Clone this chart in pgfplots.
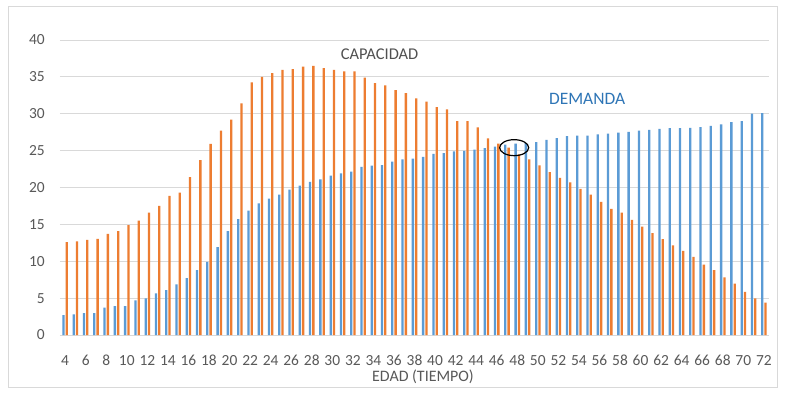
\documentclass[border=0pt]{standalone}
\usepackage{fontspec}
\setmainfont{Carlito}
\usepackage{pgfplots}
\usepackage{pgfplotstable}
\pgfplotsset{compat=1.18}
\definecolor{blu}{HTML}{5B9BD5}
\definecolor{ora}{HTML}{ED7D31}
\definecolor{gridc}{HTML}{D9D9D9}
\definecolor{tickc}{HTML}{595959}
\definecolor{capc}{HTML}{505050}
\definecolor{demc}{HTML}{2E75B6}
\definecolor{framec}{HTML}{D9D9D9}

\pgfplotstableread{
x y
4 2.7
5 2.8
6 2.95
7 2.95
8 3.7
9 3.9
10 3.9
11 4.7
12 4.95
13 5.65
14 6.1
15 6.85
16 7.7
17 8.8
18 9.9
19 11.9
20 14.1
21 15.7
22 16.85
23 17.85
24 18.5
25 19.05
26 19.7
27 20.25
28 20.75
29 21.1
30 21.6
31 21.9
32 22.15
33 22.8
34 22.95
35 23.05
36 23.5
37 23.8
38 23.9
39 24.15
40 24.55
41 24.65
42 24.9
43 24.95
44 25.15
45 25.35
46 25.55
47 25.8
48 25.95
49 26.0
50 26.15
51 26.45
52 26.7
53 26.95
54 27.05
55 27.05
56 27.2
57 27.3
58 27.45
59 27.55
60 27.7
61 27.8
62 27.95
63 28.05
64 28.05
65 28.1
66 28.2
67 28.35
68 28.55
69 28.85
70 29.0
71 30.0
72 30.1
}\demanda

\pgfplotstableread{
x y
4 12.6
5 12.7
6 12.9
7 13.05
8 13.7
9 14.1
10 14.9
11 15.5
12 16.6
13 17.5
14 18.85
15 19.3
16 21.4
17 23.7
18 25.9
19 27.7
20 29.2
21 31.4
22 34.25
23 35.0
24 35.5
25 35.95
26 36.05
27 36.4
28 36.5
29 36.2
30 35.95
31 35.75
32 35.75
33 34.9
34 34.15
35 33.85
36 33.2
37 32.8
38 32.1
39 31.65
40 30.9
41 30.6
42 29.0
43 29.0
44 28.15
45 26.65
46 25.95
47 25.4
48 24.5
49 23.8
50 23.0
51 22.1
52 21.3
53 20.7
54 19.8
55 19.05
56 18.05
57 17.1
58 16.6
59 15.6
60 14.7
61 13.8
62 13.0
63 12.15
64 11.4
65 10.6
66 9.55
67 8.8
68 7.8
69 6.95
70 5.85
71 4.95
72 4.4
}\capacidad

\begin{document}
\begin{tikzpicture}
\fill[white] (0bp,0bp) rectangle (787bp,394bp);
\draw[framec, line width=0.75bp] (8bp,7bp) rectangle (777bp,388bp);
\begin{axis}[
  at={(60bp,59bp)}, anchor=south west,
  scale only axis, width=709bp, height=295bp,
  xmin=3.5, xmax=72.5, ymin=0, ymax=40,
  ybar=1bp, bar width=2.3bp,
  xtick={4,6,...,72}, ytick={0,5,...,40},
  ymajorgrids, grid style={gridc, line width=0.75bp},
  axis line style={draw=none},
  tick style={draw=none},
  clip=false,
  /pgf/number format/assume math mode=true,
  ticklabel style={font=\fontsize{15.5}{17}\selectfont, text=tickc},
  xticklabel style={anchor=center, yshift=-21bp, inner sep=0pt},
  yticklabel style={anchor=east, xshift=-15bp, inner sep=0pt},
]
\addplot[fill=blu, draw=none] table[x=x, y=y] {\demanda};
\addplot[fill=ora, draw=none] table[x=x, y=y] {\capacidad};
\node[text=capc, font=\fontsize{16.5}{18}\selectfont, inner sep=0pt] at (axis cs:34.6,38.1) {CAPACIDAD};
\node[text=demc, font=\fontsize{17.5}{19}\selectfont, inner sep=0pt] at (axis cs:54.8,32.0) {DEMANDA};
\draw[black, line width=1.2bp] (axis cs:47.7,25.4) ellipse [x radius=14.5bp, y radius=8bp];
\node[text=tickc, font=\fontsize{16}{18}\selectfont, inner sep=0pt] at (axis description cs:0.512,0) [yshift=-42bp] {EDAD (TIEMPO)};
\end{axis}
\end{tikzpicture}
\end{document}
